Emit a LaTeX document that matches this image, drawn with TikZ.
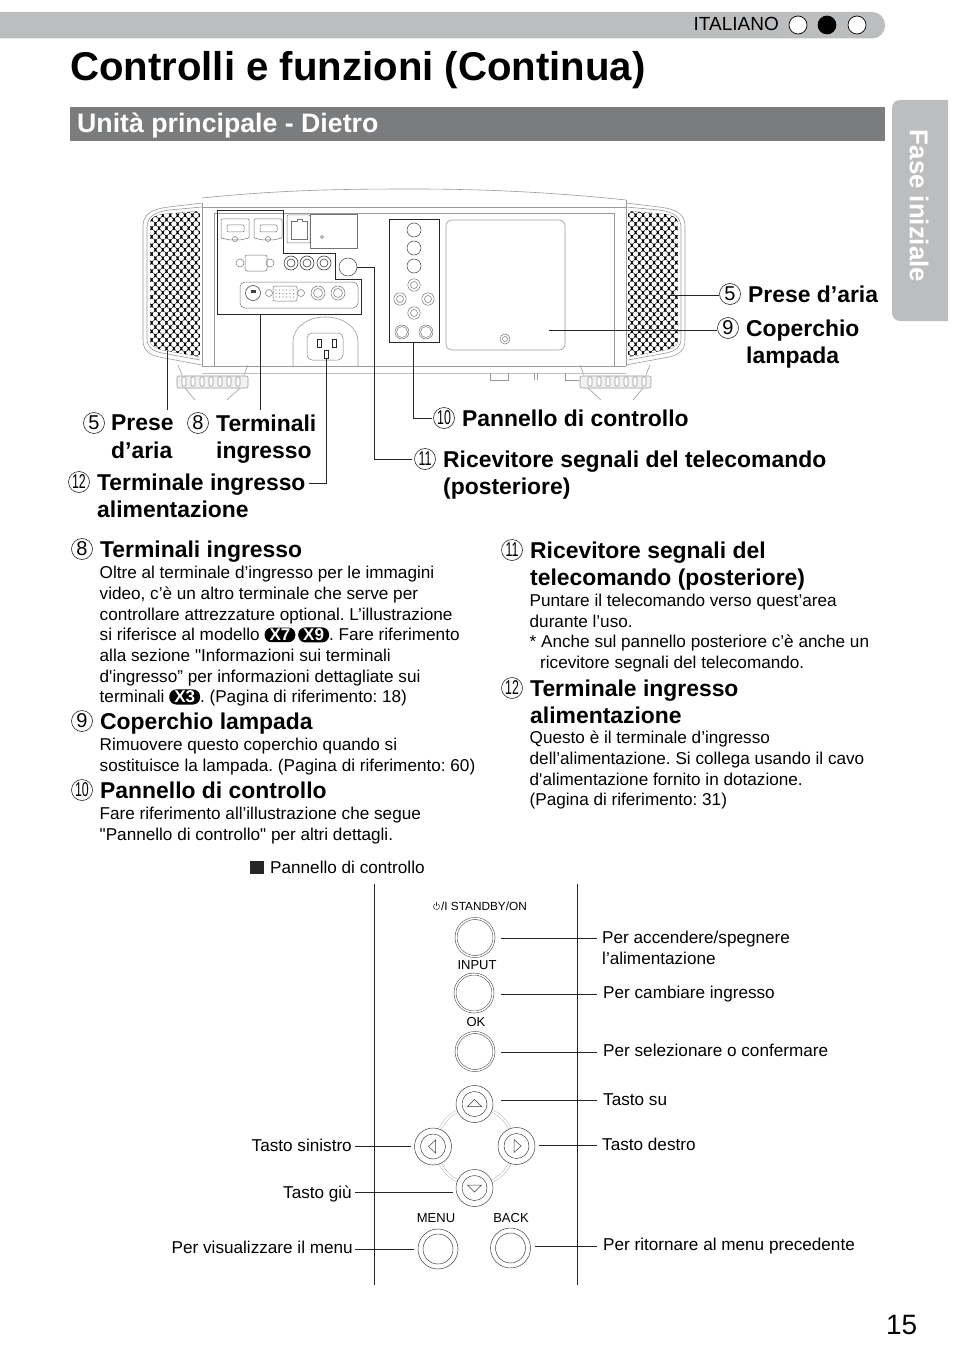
\documentclass[tikz,border=0pt]{standalone}
\usepackage{fontspec}
\setmainfont{Liberation Sans}[Ligatures=TeXOff]
\usepackage{graphicx}
\usepackage{xcolor}
\usetikzlibrary{positioning, shapes.geometric}
\frenchspacing

\definecolor{bargray}{HTML}{BCBDBF}
\definecolor{sectgray}{HTML}{7B7C7E}
\definecolor{linegray}{HTML}{9A9A9A}

\tikzset{
  bodytxt/.style={font=\fontsize{17.15}{20.7}\selectfont, align=left, anchor=north west, inner sep=0pt},
  headtxt/.style={font=\fontsize{22.9}{27.6}\selectfont\bfseries, align=left, anchor=north west, inner sep=0pt},
  numtxt/.style={circle, draw=black!85, line width=0.6pt, minimum size=21pt, inner sep=0pt, font=\fontsize{20}{20}\selectfont},
  paneltxt/.style={font=\fontsize{17.15}{20.7}\selectfont, align=left, inner sep=0pt},
  linetxt/.style={paneltxt, text height=12pt, text depth=3.5pt},
  btntxt/.style={font=\fontsize{13}{13}\selectfont, inner sep=0pt},
  leader/.style={draw=black!85, line width=0.7pt},
  body/.style={draw=linegray, line width=0.6pt},
  port/.style={draw=black!55, line width=0.5pt},
  panelbtn/.style={circle, draw=black!75, fill=white, line width=0.5pt, double=white, double distance=1.5pt, inner sep=0pt},
  keybtn/.style={circle, draw=black!75, fill=white, line width=0.5pt, inner sep=0pt},
  dotbtn/.style={circle, draw=black, line width=0.7pt, fill=white, inner sep=0pt, minimum size=18pt},
  badgebox/.style={fill=black, text=white, rounded corners=7pt, inner xsep=5pt, inner ysep=1.5pt,
    font=\fontsize{17}{17}\selectfont\bfseries},
}
\newcommand{\modelbadge}[1]{\tikz[baseline=(mbadge.base)]\node[badgebox] (mbadge) {#1};}
\newcommand{\twodigit}[1]{\scalebox{0.62}[1]{#1}}

\begin{document}
\begin{tikzpicture}[x=1pt, y=-1pt]
  \useasboundingbox (0,0) rectangle (954,1356);

  % header
  \fill[bargray, rounded corners=13pt] (-20,12) rectangle (885,38.5);
  \node[anchor=east, inner sep=0pt, font=\fontsize{19}{19}\selectfont] (lang) at (779,24) {ITALIANO};
  \node[dotbtn] (dot1) at (798,25) {};
  \node[dotbtn, fill=black] (dot2) at (827,25) {};
  \node[dotbtn] (dot3) at (857,25) {};
  \node[anchor=base west, inner sep=0pt, font=\fontsize{40.15}{40}\selectfont\bfseries] (title) at (70,81)
    {Controlli e funzioni (Continua)};
  \fill[sectgray] (70,107.5) rectangle (885,141.5);
  \node[anchor=base west, inner sep=0pt, text=white, font=\fontsize{26.7}{26}\selectfont\bfseries] (section) at (77,133)
    {Unità principale - Dietro};
  \fill[bargray] (948,100) {[rounded corners=8pt] -- (892,100) -- (892,321)} -- (948,321) -- cycle;
  \node[rotate=-90, inner sep=0pt, text=white, font=\fontsize{25.8}{26}\selectfont\bfseries] (tab) at (919,206)
    {Fase iniziale};
  \node[anchor=base east, inner sep=0pt, font=\fontsize{28}{28}\selectfont] (pageno) at (917.5,1334) {15};

  % projector, the two sides are the same
  \draw[body] (202,198) .. controls (280,190) and (340,189) .. (414,189) .. controls (490,189) and (560,193) .. (626,200);
  \foreach \gs in {1,-1} {
    \begin{scope}[shift={(414,0)}, xscale=\gs]
      \draw[body] (-212,203) -- (-245,207) .. controls (-262,209) and (-271,214) .. (-271,226)
        -- (-271,340) .. controls (-271,350) and (-265,355) .. (-255,357) -- (-212,365);
      \draw[body] (-212,207) -- (-245,210) .. controls (-259,212) and (-267,216) .. (-267,228)
        -- (-267,338) .. controls (-267,347) and (-262,351) .. (-252,353) -- (-214,360);
      \begin{scope}
        \clip (-264,224) .. controls (-264,217) and (-258,215) .. (-250,214) -- (-214,211)
          -- (-214,357) -- (-252,350) .. controls (-260,348) and (-264,345) .. (-264,340) -- cycle;
        \fill[black] (-265,210) rectangle (-213,358);
        \foreach \gi in {0,...,35} {
          \pgfmathsetmacro{\goff}{mod(\gi,2)*3.7}
          \foreach \gj in {0,...,7} {
            \fill[white] (-266+\gj*7.4+\goff,211+\gi*4.3) circle (2.7);
          }
        }
      \end{scope}
      % foot
      \draw[body] (-236,365) -- (-232,375);
      \draw[body] (-229,388) -- (-219,400) (-174,388) -- (-187,400) (-170,375) -- (-166,365);
      \draw[body, fill=black!5, rounded corners=2pt] (-237,376) rectangle (-166,388);
      \foreach \gk in {-232,-223,...,-172} {
        \draw[body, fill=white, rounded corners=1pt] (\gk,377) rectangle (\gk+4,386);
      }
    \end{scope}
  }
  \draw[body, line width=1pt] (202,203) -- (202,366) (626,200) -- (626,366);
  \draw[body, line width=1pt] (202,208) -- (626,208);
  \draw[body] (214,213) -- (614,213) -- (614,366) (214,213) -- (214,366);
  \draw[body, line width=1pt] (202,366) -- (626,366);
  \draw[body, black!25] (202,373) -- (626,373);
  \draw[body] (490,373) -- (490,380) -- (508,380) -- (508,373) (534,373) -- (534,380) (537,373) -- (537,380) (565,373) -- (565,380) -- (579,380);

  % lamp cover and control panel
  \draw[body, rounded corners=6pt] (446,220) rectangle (565,350);
  \draw[port] (505,339) circle (5) (505,339) circle (2.5);
  \draw[black!85, line width=0.9pt, fill=white] (389,219) rectangle (439,342);
  \foreach \px/\py in {414/230, 414/248, 414/266} {
    \draw[black!75, line width=0.5pt] (\px,\py) circle (7);
  }
  \foreach \px/\py in {414/285, 400/299, 428/299, 414/313} {
    \draw[port] (\px,\py) circle (6.2) (\px,\py) circle (3.5);
  }
  \foreach \px/\py in {402/332, 426/332} {
    \draw[port] (\px,\py) circle (7) (\px,\py) circle (5.5);
  }

  % terminals
  \draw[black!85, line width=0.9pt] (217,210) -- (283.5,210) -- (283.5,253) -- (335,253) -- (335,279.5) -- (361,279.5) -- (361,314) -- (217,314) -- cycle;
  \foreach \px in {221,254} {
    \draw[port, rounded corners=1pt] (\px,219) -- (\px+28,219) -- (\px+28,238) -- (\px+19,240) -- (\px+9,240) -- (\px,238) -- cycle;
    \draw[port, rounded corners=1pt] (\px+6,225) rectangle (\px+23,232);
    \draw[port] (\px+14,239) circle (2.5);
  }
  \draw[port, rounded corners=1pt] (287,215) rectangle (310,243);
  \draw[port] (291,221) -- (297,221) -- (297,219) -- (302,219) -- (302,221) -- (307,221) -- (307,239) -- (291,239) -- cycle;
  \draw[port] (310,214) -- (357,214) -- (357,248) -- (310,248) -- cycle;
  \draw[port] (322,237) circle (1.5);
  \draw[port, rounded corners=2pt] (245,255) rectangle (267,271);
  \draw[port] (240,263) circle (4) (270,263) circle (4);
  \foreach \px in {291,307,324} {
    \draw[black!75, line width=0.6pt] (\px,263) circle (7) (\px,263) circle (4);
  }
  \node[keybtn, minimum size=18pt] (recv) at (348,267) {};
  \draw[port, rounded corners=5pt] (240,282) rectangle (358,308);
  \draw[black!70, line width=0.6pt] (253,293) circle (7.5);
  \fill[black!75] (251,290) rectangle (256,293);
  \draw[port, rounded corners=2pt] (273,286) rectangle (297,301);
  \draw[port] (269,293) circle (3.5) (301,293) circle (3.5);
  \foreach \px in {276,279.5,...,294} {
    \fill[black!50] (\px,290) circle (0.7) (\px,293.5) circle (0.7) (\px,297) circle (0.7);
  }
  \draw[port] (318,293) circle (7) (318,293) circle (4.5) (338,293) circle (7) (338,293) circle (4.5);

  % power inlet
  \draw[body] (293,366) -- (293,342) .. controls (293,327) and (308,317) .. (325,317) .. controls (343,317) and (358,327) .. (358,342) -- (358,366);
  \node[rectangle, draw=black!50, line width=0.5pt, rounded corners=5pt, minimum width=36pt, minimum height=27pt, inner sep=0pt] (inlet) at (325,346.5) {};
  \draw[black!85, line width=0.8pt] (317,339) rectangle (321,347) (332,339) rectangle (336,347) (324.5,350) rectangle (328.5,358);

  % upper labels
  \node[numtxt] (num5a) at (94,423) {5};
  \node[headtxt] (lprese) at (111,414.5) {Prese\\d’aria};
  \node[numtxt] (num8a) at (198,423) {8};
  \node[headtxt] (lterm) at (216,414.5) {Terminali\\ingresso};
  \node[numtxt] (num12a) at (79,482) {\twodigit{12}};
  \node[headtxt] (lpower) at (97,473.5) {Terminale ingresso\\alimentazione};
  \node[numtxt] (num10a) at (444,418) {\twodigit{10}};
  \node[headtxt] (lpanel) at (462,409.5) {Pannello di controllo};
  \node[numtxt] (num11a) at (425,459) {\twodigit{11}};
  \node[headtxt] (lrecv) at (443,450.5) {Ricevitore segnali del telecomando\\(posteriore)};
  \node[numtxt] (num5b) at (730,294) {5};
  \node[headtxt] (rprese) at (748,285.5) {Prese d’aria};
  \node[numtxt] (num9a) at (728,328) {9};
  \node[headtxt] (rcover) at (746,319.5) {Coperchio\\lampada};

  % leaders of the projector
  \coordinate (gridl) at (167.5,351);
  \coordinate (gridlend) at (167.5,410);
  \coordinate (termb) at (260.5,314);
  \coordinate (termend) at (260.5,410);
  \coordinate (pinb) at (326.5,358);
  \coordinate (pinc) at (326.5,483);
  \coordinate (pine) at (309,483);
  \coordinate (panelb) at (413.5,342);
  \coordinate (panelc) at (413.5,418);
  \coordinate (panele) at (432,418);
  \coordinate (recvc) at (374,267);
  \coordinate (recvd) at (374,459);
  \coordinate (recve) at (412,459);
  \coordinate (gridr) at (670,295);
  \coordinate (gridre) at (719,295);
  \coordinate (lampc) at (549,330);
  \coordinate (lampe) at (717,330);
  \draw[leader] (gridl) -- (gridlend);
  \draw[leader] (termb) -- (termend);
  \draw[leader] (pinb) -- (pinc) -- (pine);
  \draw[leader] (panelb) -- (panelc) -- (panele);
  \draw[leader] (recv.east) -- (recvc) -- (recvd) -- (recve);
  \draw[leader] (gridr) -- (gridre);
  \draw[leader] (lampc) -- (lampe);

  % descriptions
  \node[numtxt] (num8b) at (82,549) {8};
  \node[headtxt] (h8) at (100,540.5) {Terminali ingresso};
  \node[bodytxt] (d8) at (99.5,566) {Oltre al terminale d’ingresso per le immagini\\
    video, c’è un altro terminale che serve per\\
    controllare attrezzature optional. L’illustrazione\\
    si riferisce al modello \modelbadge{X7}\,\modelbadge{X9}. Fare riferimento\\
    alla sezione "Informazioni sui terminali\\
    d'ingresso” per informazioni dettagliate sui\\
    terminali \modelbadge{X3}. (Pagina di riferimento: 18)};
  \node[numtxt] (num9b) at (82,721) {9};
  \node[headtxt] (h9) at (100,712.5) {Coperchio lampada};
  \node[bodytxt] (d9) at (99.5,738) {Rimuovere questo coperchio quando si\\
    sostituisce la lampada. (Pagina di riferimento: 60)};
  \node[numtxt] (num10b) at (82,790) {\twodigit{10}};
  \node[headtxt] (h10) at (100,781.5) {Pannello di controllo};
  \node[bodytxt] (d10) at (99.5,807) {Fare riferimento all’illustrazione che segue\\
    "Pannello di controllo" per altri dettagli.};
  \node[numtxt] (num11b) at (512,550) {\twodigit{11}};
  \node[headtxt] (h11) at (530,541.5) {Ricevitore segnali del\\telecomando (posteriore)};
  \node[bodytxt] (d11) at (529.5,594) {Puntare il telecomando verso quest’area\\durante l’uso.};
  \node[bodytxt] (d11b) at (529.5,635) {* Anche sul pannello posteriore c’è anche un\\
    \hspace*{10.5pt}ricevitore segnali del telecomando.};
  \node[numtxt] (num12b) at (512,688) {\twodigit{12}};
  \node[headtxt] (h12) at (530,679.5) {Terminale ingresso\\alimentazione};
  \node[bodytxt] (d12) at (529.5,731) {Questo è il terminale d’ingresso\\
    dell’alimentazione. Si collega usando il cavo\\
    d'alimentazione fornito in dotazione.\\
    (Pagina di riferimento: 31)};

  % control panel
  \fill[black!85] (250,860.5) rectangle (264,874);
  \node[linetxt, anchor=west] (ptitle) at (270,868.75) {Pannello di controllo};
  \draw[leader] (374.5,884) -- (374.5,1285);
  \draw[leader] (577,884) -- (577,1285);

  \draw[black!30, line width=0.5pt, double=white, double distance=2pt] (475,1146) circle (39);

  \draw[black!85, line width=0.5pt] ([shift={(436.5,906.5)}]-60:3) arc (-60:240:3);
  \draw[black!85, line width=0.5pt] (436.5,901.5) -- (436.5,906);
  \node[btntxt, anchor=east, font=\fontsize{11.8}{12}\selectfont] (lstandby) at (527,906) {/I STANDBY/ON};
  \node[panelbtn, minimum size=38pt] (bstandby) at (475,937.5) {};
  \node[btntxt] (linput) at (477,965) {INPUT};
  \node[panelbtn, minimum size=38pt] (binput) at (474,993) {};
  \node[btntxt] (lok) at (476,1022) {OK};
  \node[panelbtn, minimum size=38pt] (bok) at (475,1051.5) {};
  \node[keybtn, minimum size=37pt] (bup) at (474.5,1104) {};
  \node[keybtn, minimum size=37pt] (bleft) at (433,1146.5) {};
  \node[keybtn, minimum size=37pt] (bright) at (516.5,1146) {};
  \node[keybtn, minimum size=37pt] (bdown) at (474.5,1188) {};
  \node[btntxt] (lmenu) at (436,1218) {MENU};
  \node[btntxt] (lback) at (511,1218) {BACK};
  \node[keybtn, minimum size=40pt] (bmenu) at (438,1249) {};
  \node[keybtn, minimum size=40pt] (bback) at (510.5,1248) {};
  \foreach \bname in {bup,bleft,bright,bdown} {
    \draw[black!75, line width=0.5pt] (\bname) circle (12.5);
  }
  \foreach \bname in {bmenu,bback} {
    \draw[black!75, line width=0.5pt] (\bname) circle (15);
  }
  \draw[black!75, line width=0.5pt] (467.5,1106.5) -- (474.5,1099.5) -- (481.5,1106.5) -- cycle;
  \draw[black!75, line width=0.5pt] (467.5,1185) -- (474.5,1192) -- (481.5,1185) -- cycle;
  \draw[black!75, line width=0.5pt] (435.5,1140) -- (428.5,1146.5) -- (435.5,1153) -- cycle;
  \draw[black!75, line width=0.5pt] (514,1139.5) -- (521,1146) -- (514,1152.5) -- cycle;

  % texts of the control panel
  \node[paneltxt, anchor=north west] (tstandby) at (602,931) {Per accendere/spegnere\\l’alimentazione};
  \node[linetxt, anchor=west] (tinput) at (603,993.75) {Per cambiare ingresso};
  \node[linetxt, anchor=west] (tok) at (603,1051.75) {Per selezionare o confermare};
  \node[linetxt, anchor=west] (tup) at (603,1100.75) {Tasto su};
  \node[linetxt, anchor=west] (tright) at (602,1145.75) {Tasto destro};
  \node[linetxt, anchor=west] (tback) at (603,1245.75) {Per ritornare al menu precedente};
  \node[linetxt, anchor=east] (tleft) at (352,1146.75) {Tasto sinistro};
  \node[linetxt, anchor=east] (tdown) at (352,1193.75) {Tasto giù};
  \node[linetxt, anchor=east] (tmenu) at (353,1248.75) {Per visualizzare il menu};

  \coordinate (cstandby) at (501,938);
  \coordinate (cinput) at (501,994);
  \coordinate (cok) at (501,1052);
  \coordinate (cup) at (501,1100);
  \coordinate (cright) at (539,1145);
  \coordinate (cback) at (535,1246);
  \coordinate (cleft) at (411,1146);
  \coordinate (cdown) at (453,1192);
  \coordinate (cmenu) at (414,1249);
  \coordinate (estandby) at (597,938);
  \coordinate (einput) at (597,994);
  \coordinate (eok) at (597,1052);
  \coordinate (eup) at (597,1100);
  \coordinate (eright) at (597,1145);
  \coordinate (eback) at (597,1246);
  \coordinate (eleft) at (355,1146);
  \coordinate (edown) at (355,1192);
  \coordinate (emenu) at (355,1249);
  \foreach \lname in {standby,input,ok,up,right,back,left,down,menu} {
    \draw[leader] (c\lname) -- (e\lname);
  }
\end{tikzpicture}
\end{document}
